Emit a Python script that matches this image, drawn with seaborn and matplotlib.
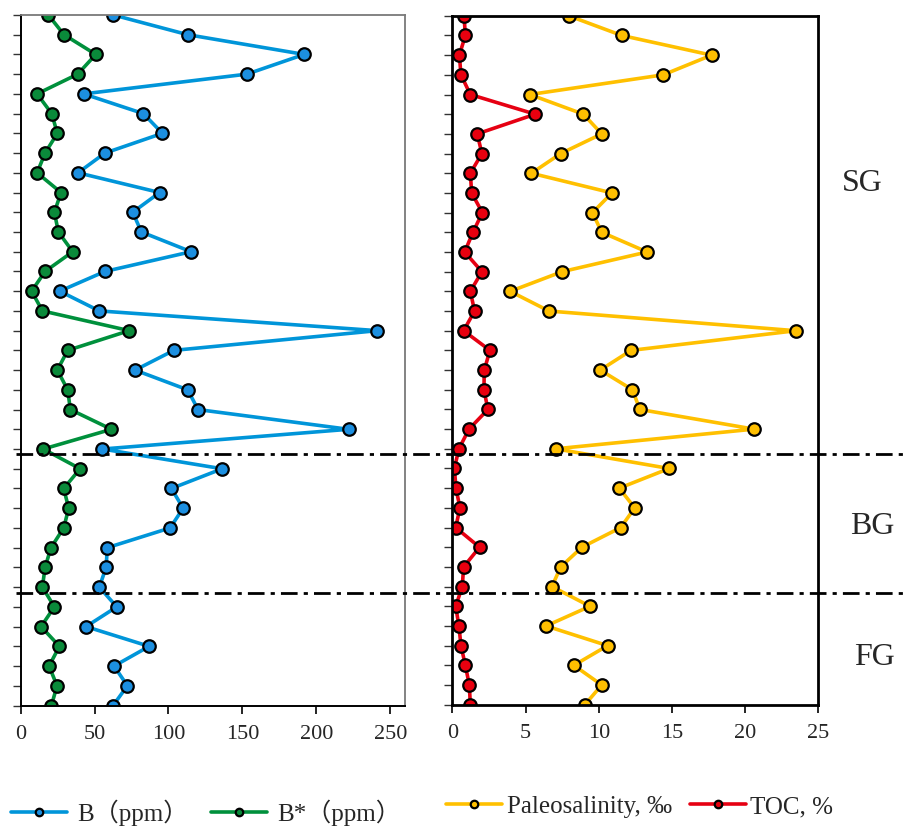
import numpy as np
import pandas as pd
import matplotlib
matplotlib.use("Agg")
import matplotlib.pyplot as plt
import matplotlib.transforms as mtransforms
from matplotlib.lines import Line2D
import seaborn as sns

# ---------------- data (top to bottom, one value per sample) ----------------
B_ppm = [62.7, 113, 191.8, 153, 42.6, 83, 95.9, 57, 38.8, 94, 75.8, 81.7, 115.3,
         57, 26.4, 53.2, 241.2, 103.6, 77.4, 113, 120, 221.8, 55.3,
         136.3, 102, 109.9, 101.1, 58.6, 57.8, 53.2,
         65, 44.2, 86.9, 63.2, 72.2, 62.5]
Bstar_ppm = [18.7, 29.3, 50.8, 38.6, 11.1, 21, 24.8, 16.5, 11.1, 27.3, 22.8, 25.5, 35.2,
             16.5, 7.4, 14.7, 73.4, 31.8, 24.8, 31.8, 33.6, 61.4, 15.3,
             40.2, 29.1, 32.5, 29.1, 20.5, 16.5, 14.7,
             22.8, 13.8, 26.2, 19.2, 24.6, 20.8]
paleosalinity = [7.95, 11.57, 17.7, 14.4, 5.3, 8.95, 10.2, 7.4, 5.4, 10.9, 9.57, 10.2, 13.3,
                 7.5, 3.95, 6.6, 23.45, 12.2, 10.1, 12.3, 12.8, 20.6, 7.05,
                 14.8, 11.4, 12.45, 11.5, 8.85, 7.4, 6.8,
                 9.4, 6.4, 10.6, 8.3, 10.2, 9.05]
toc = [0.8, 0.89, 0.48, 0.59, 1.23, 5.66, 1.7, 2.02, 1.23, 1.32, 2.05, 1.41, 0.84,
       2.02, 1.23, 1.52, 0.77, 2.57, 2.18, 2.16, 2.43, 1.14, 0.45,
       0.14, 0.25, 0.52, 0.23, 1.86, 0.77, 0.68,
       0.23, 0.45, 0.59, 0.89, 1.16, 1.23]
sample = list(range(len(B_ppm)))

left_xticks = [0, 50, 100, 150, 200, 250]
right_xticks = [0, 5, 10, 15, 20, 25]

boundaries = [22.25, 29.32]                      # unit boundaries (sample index)
unit_names = ["SG", "BG", "FG"]
unit_label_pos = [8.54, 25.92, 32.55]
unit_label_x = [0.951, 0.962, 0.964]

labels = {"B": "B\uff08ppm\uff09", "Bs": "B*\uff08ppm\uff09",
          "P": "Paleosalinity, \u2030", "T": "TOC, %"}

# ---------------- style ----------------
sns.set_theme(style="white")
plt.rcParams["font.family"] = ["Liberation Serif", "Noto Sans CJK SC", "DejaVu Sans"]

c_blue, c_blue_face = "#0095D9", "#1C8FE0"
c_green, c_green_face = "#00903C", "#0A8A3A"
c_yellow, c_yellow_face = "#FFC000", "#FFBF00"
c_red, c_red_face = "#E60012", "#E8000F"

fig = plt.figure(figsize=(9.07, 8.31), dpi=100)
ax1 = fig.add_axes([0.0228, 0.151, 0.4237, 0.831])
ax2 = fig.add_axes([0.4987, 0.152, 0.4037, 0.829])

df = pd.DataFrame({"sample": sample, "B": B_ppm, "Bs": Bstar_ppm,
                   "P": paleosalinity, "T": toc})

line_kw = dict(linewidth=2.6, marker="o", markersize=9, markeredgecolor="black",
               markeredgewidth=1.6, sort=False, estimator=None)

sns.lineplot(data=df, x="B", y="sample", ax=ax1, color=c_blue,
             markerfacecolor=c_blue_face, label=labels["B"], zorder=3, **line_kw)
sns.lineplot(data=df, x="Bs", y="sample", ax=ax1, color=c_green,
             markerfacecolor=c_green_face, label=labels["Bs"], zorder=3, **line_kw)
sns.lineplot(data=df, x="P", y="sample", ax=ax2, color=c_yellow,
             markerfacecolor=c_yellow_face, label=labels["P"], zorder=3, **line_kw)
sns.lineplot(data=df, x="T", y="sample", ax=ax2, color=c_red,
             markerfacecolor=c_red_face, label=labels["T"], zorder=3, **line_kw)

for ax, xt, xmax in ((ax1, left_xticks, 260), (ax2, right_xticks, 25)):
    ax.set_ylim(len(sample) - 1, 0)
    ax.set_xlim(0, xmax)
    ax.set_xticks(xt)
    ax.set_xticklabels([str(v) for v in xt])
    ax.set_yticks(sample)
    ax.set_yticklabels([])
    ax.set_xlabel("")
    ax.set_ylabel("")
    ax.tick_params(axis="x", direction="out", length=6, width=1.2, color="black",
                   labelsize=16, pad=8, bottom=True)
    ax.tick_params(axis="y", direction="out", length=6, width=1.0, color="#333333",
                   left=True)
    ax.get_legend().remove()
    for sp in ax.spines.values():
        sp.set_zorder(5)

for s in ("left", "bottom"):
    ax1.spines[s].set_color("black")
    ax1.spines[s].set_linewidth(1.4)
for s in ("top", "right"):
    ax1.spines[s].set_color("#7a7a7a")
    ax1.spines[s].set_linewidth(1.3)
for s in ax2.spines.values():
    s.set_color("black")
    s.set_linewidth(2.0)

# unit boundaries spanning the whole figure width
trans = mtransforms.blended_transform_factory(fig.transFigure, ax1.transData)
for b in boundaries:
    fig.add_artist(Line2D([0.018, 1.0], [b, b], transform=trans, color="black",
                          linewidth=2.0, linestyle=(0, (6, 2.2, 1.5, 2.2)),
                          zorder=10))

for name, xp, yp in zip(unit_names, unit_label_x, unit_label_pos):
    fig.text(xp, yp, name, transform=trans, ha="center", va="center",
             fontsize=23, family=["Liberation Serif"])

# legends
h1, l1 = ax1.get_legend_handles_labels()
h2, l2 = ax2.get_legend_handles_labels()
leg_kw = dict(frameon=False, fontsize=18, ncol=2, handlelength=2.25,
              borderaxespad=0, borderpad=0, markerscale=0.6)
fig.legend(h1, l1, loc="center left", bbox_to_anchor=(0.012, 0.022),
           columnspacing=0.9, handletextpad=0.4, **leg_kw)
fig.legend(h2, l2, loc="center left", bbox_to_anchor=(0.492, 0.029),
           columnspacing=0.7, handletextpad=0.18, **leg_kw)

fig.savefig("out.png", dpi=100)
